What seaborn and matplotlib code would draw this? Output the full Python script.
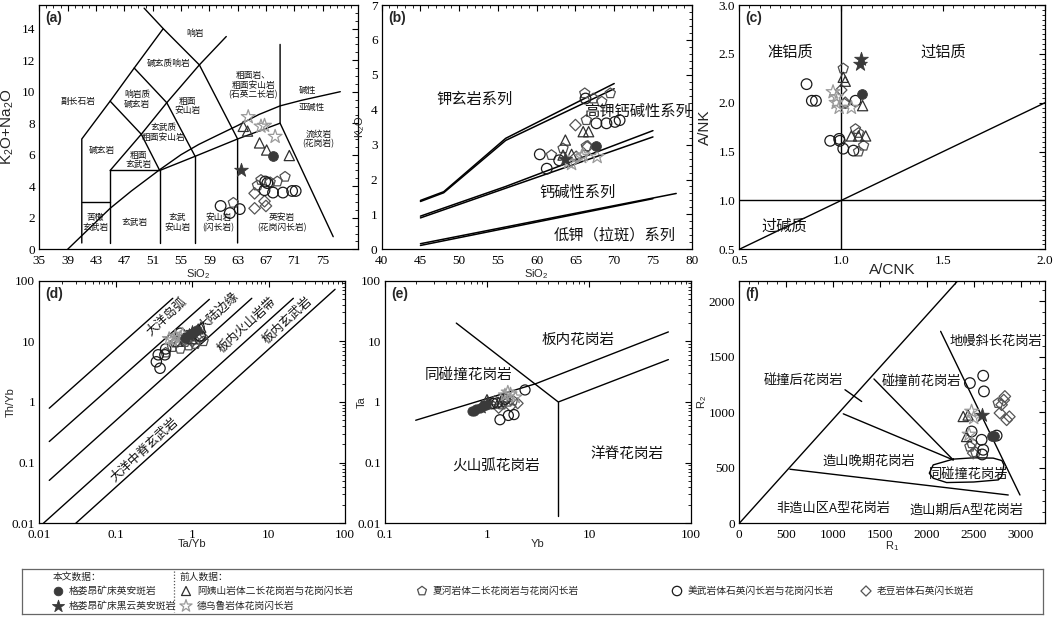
import matplotlib
matplotlib.use('Agg')
import matplotlib.pyplot as plt
from matplotlib.ticker import MultipleLocator, FixedLocator, FixedFormatter, LogLocator, NullFormatter
import seaborn as sns
import pandas as pd

sns.set_theme(style='white')
plt.rcParams['font.family'] = ['Liberation Serif', 'Noto Sans CJK SC']
plt.rcParams['mathtext.fontset'] = 'custom'
plt.rcParams['mathtext.rm'] = 'Liberation Sans'
plt.rcParams['mathtext.it'] = 'Liberation Sans'

CJK = ['Noto Sans CJK SC', 'DejaVu Sans']
SANS = ['Liberation Sans', 'DejaVu Sans']

# ---------------- legend names
name_A = '格娄昂矿床英安斑岩'
name_B = '格娄昂矿床黑云英安斑岩'
name_T = '阿姨山岩体二长花岗岩与花岗闪长岩'
name_P = '夏河岩体二长花岗岩与花岗闪长岩'
name_C = '美武岩体石英闪长岩与花岗闪长岩'
name_D = '老豆岩体石英闪长斑岩'
name_S = '德乌鲁岩体花岗闪长岩'

# ---------------- (a) TAS data
tas_group = ['A', 'B'] + ['T'] * 5 + ['S'] * 4 + ['P'] * 6 + ['C'] * 10 + ['D'] * 4
tas_sio2 = [68.0, 63.5,
            63.8, 64.4, 66.1, 67.1, 70.3,
            64.5, 66.3, 66.8, 68.3,
            66.3, 67.6, 68.6, 69.7, 65.8, 62.4,
            60.6, 61.9, 63.3, 66.9, 67.2, 66.8, 68.0, 69.4, 70.7, 71.2,
            65.4, 65.4, 66.8, 67.0]
tas_alk = [5.9, 5.0,
           7.8, 7.5, 6.75, 6.3, 5.95,
           8.4, 7.8, 7.85, 7.15,
           4.4, 4.25, 4.3, 4.6, 4.05, 2.95,
           2.75, 2.3, 2.55, 4.3, 4.2, 3.75, 3.6, 3.6, 3.7, 3.7,
           3.55, 2.6, 3.05, 2.75]

# ---------------- (b) SiO2-K2O data
sk_group = ['A', 'B'] + ['T'] * 5 + ['S'] * 5 + ['P'] * 8 + ['C'] * 8 + ['D'] * 3
sk_sio2 = [67.7, 63.6,
           63.7, 66.0, 66.7, 63.4, 64.5,
           64.1, 66.0, 67.8, 64.5, 65.8,
           66.2, 67.3, 68.4, 69.5, 66.4, 61.9, 63.4, 66.4,
           60.4, 61.3, 62.9, 66.3, 67.7, 69.0, 70.1, 70.7,
           65.0, 65.1, 66.6]
sk_k2o = [2.95, 2.6,
          3.13, 3.37, 3.37, 2.7, 2.72,
          2.5, 2.7, 2.65, 2.45, 2.65,
          4.47, 4.32, 4.23, 4.47, 3.7, 2.7, 2.89, 2.95,
          2.72, 2.31, 2.55, 4.32, 3.61, 3.61, 3.65, 3.7,
          3.56, 2.65, 2.95]

# ---------------- (c) A/CNK-A/NK data
ac_group = ['A', 'B', 'B'] + ['T'] * 6 + ['S'] * 5 + ['P'] * 6 + ['C'] * 9 + ['D'] * 2
ac_acnk = [1.10, 1.096, 1.093,
           1.01, 1.02, 1.105, 1.12, 1.085, 1.05,
           0.96, 0.977, 0.975, 0.99, 1.05,
           1.01, 1.015, 1.07, 1.085, 1.11, 1.085,
           0.83, 0.856, 0.876, 0.946, 0.99, 0.993, 1.01, 1.06, 1.07,
           1.0, 1.02]
ac_anK = [2.09, 2.45, 2.40,
          2.26, 2.22, 1.97, 1.66, 1.66, 1.66,
          2.11, 2.06, 2.0, 1.95, 1.95,
          2.35, 1.99, 1.73, 1.69, 1.56, 1.50,
          2.19, 2.02, 2.02, 1.61, 1.63, 1.61, 1.53, 1.51, 2.02,
          2.13, 2.0]

# ---------------- (d) Ta/Yb-Th/Yb data
ty_group = ['A'] * 4 + ['B'] * 2 + ['T'] * 4 + ['S'] * 5 + ['P'] * 8 + ['C'] * 7 + ['D'] * 5
ty_tayb = [0.8, 0.95, 1.05, 1.15,
           0.9, 1.0,
           0.65, 1.2, 1.3, 1.0,
           0.5, 0.6, 0.75, 0.55, 0.7,
           0.45, 0.55, 0.7, 0.9, 1.1, 1.4, 0.6, 0.8,
           0.36, 0.34, 0.38, 0.44, 0.70, 1.27, 0.45,
           0.8, 1.0, 1.2, 1.35, 0.9]
ty_thyb = [11.5, 13.0, 14.5, 15.5,
           12.5, 14.0,
           10.0, 16.0, 17.0, 11.0,
           11.0, 12.0, 13.0, 10.5, 11.5,
           6.5, 8.0, 7.5, 8.5, 9.0, 10.0, 9.5, 9.7,
           6.0, 4.6, 3.6, 6.0, 13.6, 12.3, 7.5,
           10.5, 10.0, 11.0, 12.0, 11.5]

# ---------------- (e) Yb-Ta data
yt_group = ['A'] * 6 + ['B'] * 2 + ['T'] * 3 + ['S'] * 4 + ['P'] * 5 + ['C'] * 7 + ['D'] * 4
yt_yb = [0.72, 0.78, 0.85, 0.92, 0.98, 0.75,
         0.88, 1.0,
         1.0, 1.3, 1.5,
         1.5, 1.7, 1.9, 1.6,
         1.1, 1.4, 1.6, 1.8, 1.2,
         1.34, 1.62, 1.84, 2.36, 1.5, 1.25, 1.15,
         1.3, 1.7, 2.0, 1.45]
yt_ta = [0.72, 0.76, 0.8, 0.85, 0.9, 0.7,
         0.82, 0.95,
         1.1, 1.0, 1.2,
         1.3, 1.35, 1.2, 1.45,
         0.9, 0.9, 1.0, 1.05, 1.05,
         0.51, 0.6, 0.62, 1.58, 1.11, 0.96, 0.95,
         0.8, 0.85, 0.95, 1.0]

# ---------------- (f) R1-R2 data
rr_group = ['A'] * 2 + ['B'] + ['T'] * 3 + ['S'] * 3 + ['P'] * 4 + ['C'] * 8 + ['D'] * 7
rr_r1 = [2690, 2720, 2584,
         2388, 2424, 2440,
         2477, 2500, 2450,
         2761, 2459, 2520, 2480,
         2459, 2601, 2609, 2477, 2584, 2601, 2590, 2744,
         2797, 2832, 2851, 2779, 2494, 2880, 2820]
rr_r2 = [790, 790, 977,
         962, 782, 975,
         1007, 950, 800,
         1083, 690, 640, 720,
         1263, 1329, 1188, 827, 752, 662, 620, 790,
         1068, 1143, 932, 993, 632, 960, 1110]

# ---------------- diagram boundaries
tas_lines = [
    [(41, 0.4), (41, 7), (45, 9.4), (48.4, 11.5), (52.5, 14), (57.6, 11.7), (63, 7), (63, 0.4)],
    [(41, 3), (45, 3)],
    [(45, 0.4), (45, 5), (52, 5), (52, 0.4)],
    [(52, 5), (57, 5.9), (63, 7), (69, 8), (69, 13)],
    [(57, 0.4), (57, 5.9)],
    [(45, 9.4), (49.4, 7.3), (52, 5)],
    [(45, 5), (49.4, 7.3), (53, 9.3), (57.6, 11.7)],
    [(48.4, 11.5), (53, 9.3), (57, 5.9)],
    [(57.6, 11.7), (61.4, 13.5)],
    [(52.5, 14), (49.8, 15.3)],
    [(69, 8), (76.5, 0.8)],
]
ib_sio2 = [39, 42, 45, 48, 52, 55, 57.5, 60, 63, 66, 69, 72, 75, 77.5]
ib_alk = [0, 1.3, 2.6, 3.7, 5.05, 6.0, 6.65, 7.2, 7.85, 8.55, 9.1, 9.45, 9.75, 10.0]

k_lines = [
    [(45, 1.40), (48, 1.65), (56, 3.18), (70, 4.75)],
    [(45, 1.37), (48, 1.62), (56, 3.12), (70, 4.60)],
    [(45, 0.95), (56, 1.80), (75, 3.40)],
    [(45, 0.90), (56, 1.75), (75, 3.22)],
    [(45, 0.16), (78, 1.60)],
    [(45, 0.11), (75, 1.45)],
]

thyb_lines = [
    [(0.0135, 0.79), (0.558, 51.3)],
    [(0.0135, 0.223), (1.68, 49.3)],
    [(0.0135, 0.051), (6.03, 51.3)],
    [(0.0113, 0.01), (21.1, 51.3)],
    [(0.030, 0.01), (74.1, 72.1)],
]

tayb_lines = [
    [(0.2, 0.5), (3, 2), (60, 14.3)],
    [(0.5, 20), (5, 1), (60, 5.0)],
    [(5, 1), (5, 0.013)],
]

r_lines = [
    [(0, 0), (2400, 2250)],
    [(540, 487), (2868, 255)],
    [(1109, 986), (2281, 571)],
    [(1436, 1300), (2281, 571)],
    [(2147, 1729), (2993, 255)],
    [(1127, 1203), (1305, 1097)],
]
blob_r1 = [2281, 2500, 2708, 2800, 2822, 2797, 2762, 2500, 2211, 2068, 2026, 2068, 2281]
blob_r2 = [578, 590, 587, 565, 526, 421, 391, 372, 367, 406, 451, 526, 578]

# ---------------- styles
STYLE = {
    'A': dict(marker='o', s=55, fc='#3a3a3a', ec='#3a3a3a', lw=0.6),
    'B': dict(marker='*', s=120, fc='#3a3a3a', ec='#3a3a3a', lw=0.6),
    'T': dict(marker='^', s=60, fc='none', ec='#303030', lw=0.9),
    'P': dict(marker='p', s=65, fc='none', ec='#505050', lw=0.9),
    'C': dict(marker='o', s=65, fc='none', ec='#1a1a1a', lw=0.9),
    'D': dict(marker='D', s=38, fc='none', ec='#555555', lw=0.9),
    'S': dict(marker='*', s=120, fc='none', ec='#9a9a9a', lw=0.9),
}
ORDER = ['P', 'D', 'C', 'T', 'S', 'B', 'A']


def draw_points(ax, groups, xs, ys, scale=1.0):
    df = pd.DataFrame({'g': groups, 'x': xs, 'y': ys})
    for g in ORDER:
        sub = df[df['g'] == g]
        if sub.empty:
            continue
        st = STYLE[g]
        sns.scatterplot(data=sub, x='x', y='y', marker=st['marker'], s=st['s'] * scale,
                        facecolor=st['fc'], edgecolor=st['ec'], linewidth=st['lw'],
                        ax=ax, legend=False, zorder=3)


def draw_lines(ax, lines, lw=1.0):
    for ln in lines:
        xs = [p[0] for p in ln]
        ys = [p[1] for p in ln]
        ax.plot(xs, ys, color='black', lw=lw, zorder=2)


def finish(ax, tag, xlabel, ylabel, xl_size, yl_size, ylab_x, xlab_y=-0.055):
    ax.tick_params(which='both', direction='in', top=True, right=True,
                   labelsize=9.5, colors='black')
    ax.tick_params(axis='x', which='major', pad=4)
    ax.tick_params(axis='y', which='major', pad=3)
    ax.tick_params(which='major', length=4, width=0.8)
    ax.tick_params(which='minor', length=2, width=0.6)
    for s in ax.spines.values():
        s.set_color('black')
        s.set_linewidth(0.9)
    ax.set_xlabel(xlabel, family=SANS, fontsize=xl_size)
    ax.set_ylabel(ylabel, family=SANS, fontsize=yl_size)
    ax.xaxis.set_label_coords(0.5, xlab_y)
    ax.yaxis.set_label_coords(ylab_x, 0.5)
    ax.text(0.02, 0.975, tag, transform=ax.transAxes, ha='left', va='top',
            family=SANS, fontsize=10, fontweight='bold')


def label(ax, txt, x, y, size, rot=0, ls=1.05):
    ax.text(x, y, txt, family=CJK, fontsize=size, ha='center', va='center',
            rotation=rot, linespacing=ls, zorder=4, color='#111111')


W, H = 1053, 621
fig = plt.figure(figsize=(W / 100, H / 100), dpi=100)
fig.patch.set_facecolor('white')


def box(l, r, t, b):
    return [l / W, 1 - b / H, (r - l) / W, (b - t) / H]


ax_a = fig.add_axes(box(39.3, 358, 5, 249.3))
ax_b = fig.add_axes(box(381.7, 691.7, 5, 249.3))
ax_c = fig.add_axes(box(739.3, 1045, 5, 249.3))
ax_d = fig.add_axes(box(39.3, 345, 280.7, 523.3))
ax_e = fig.add_axes(box(385, 691, 280.7, 523.3))
ax_f = fig.add_axes(box(739.3, 1045, 280.7, 523.3))

# ---- (a)
draw_lines(ax_a, tas_lines)
ax_a.plot(ib_sio2, ib_alk, color='black', lw=1.0, zorder=2)
draw_points(ax_a, tas_group, tas_sio2, tas_alk, 0.9)
for txt, x, y in [('响岩', 57.0, 13.7), ('碱玄质响岩', 53.2, 11.8), ('响岩质\n碱玄岩', 48.8, 9.5),
                  ('副长石岩', 40.5, 9.4), ('碱玄岩', 43.8, 6.3), ('粗面\n玄武岩', 49.0, 5.65),
                  ('玄武质\n粗面安山岩', 52.6, 7.4), ('粗面\n安山岩', 55.9, 9.1),
                  ('粗面岩、\n粗面安山岩\n(石英二长岩)', 65.2, 10.4), ('碱性', 72.8, 10.1),
                  ('亚碱性', 73.5, 9.0), ('流纹岩\n(花岗岩)', 74.4, 7.0), ('苦橄\n玄武岩', 42.9, 1.7),
                  ('玄武岩', 48.5, 1.7), ('玄武\n安山岩', 54.5, 1.7), ('安山岩\n(闪长岩)', 60.3, 1.7),
                  ('英安岩\n(花岗闪长岩)', 69.2, 1.7)]:
    label(ax_a, txt, x, y, 6.3)
ax_a.set_xlim(35, 80)
ax_a.set_ylim(0, 15.5)
ax_a.xaxis.set_major_locator(FixedLocator(list(range(35, 76, 4))))
ax_a.xaxis.set_minor_locator(MultipleLocator(1))
ax_a.yaxis.set_major_locator(FixedLocator(list(range(0, 15, 2))))
ax_a.yaxis.set_minor_locator(MultipleLocator(0.5))
finish(ax_a, '(a)', 'SiO$_2$', 'K$_2$O+Na$_2$O', 8, 11, -0.073, -0.072)

# ---- (b)
draw_lines(ax_b, k_lines, 1.1)
draw_points(ax_b, sk_group, sk_sio2, sk_k2o, 0.9)
label(ax_b, '钾玄岩系列', 52.0, 4.3, 11)
label(ax_b, '高钾钙碱性系列', 73.0, 3.95, 11)
label(ax_b, '钙碱性系列', 65.2, 1.62, 11)
label(ax_b, '低钾（拉斑）系列', 70.0, 0.42, 11)
ax_b.set_xlim(40, 80)
ax_b.set_ylim(0, 7)
ax_b.xaxis.set_major_locator(MultipleLocator(5))
ax_b.xaxis.set_minor_locator(MultipleLocator(1))
ax_b.yaxis.set_major_locator(MultipleLocator(1))
ax_b.yaxis.set_minor_locator(MultipleLocator(0.2))
finish(ax_b, '(b)', 'SiO$_2$', 'K$_2$O', 8, 8, -0.047, -0.072)

# ---- (c)
ax_c.plot([1.0, 1.0], [0.5, 3.0], color='black', lw=1.0)
ax_c.plot([0.5, 2.0], [1.0, 1.0], color='black', lw=1.0)
ax_c.plot([0.5, 2.0], [0.5, 2.0], color='black', lw=1.0)
draw_points(ax_c, ac_group, ac_acnk, ac_anK, 0.9)
label(ax_c, '准铝质', 0.75, 2.52, 11)
label(ax_c, '过铝质', 1.5, 2.52, 11)
label(ax_c, '过碱质', 0.72, 0.74, 11)
ax_c.set_xlim(0.5, 2.0)
ax_c.set_ylim(0.5, 3.0)
ax_c.xaxis.set_major_locator(FixedLocator([0.5, 1.0, 1.5, 2.0]))
ax_c.xaxis.set_major_formatter(FixedFormatter(['0.5', '1.0', '1.5', '2.0']))
ax_c.xaxis.set_minor_locator(MultipleLocator(0.05))
ax_c.yaxis.set_major_locator(FixedLocator([0.5, 1.0, 1.5, 2.0, 2.5, 3.0]))
ax_c.yaxis.set_major_formatter(FixedFormatter(['0.5', '1.0', '1.5', '2.0', '2.5', '3.0']))
ax_c.yaxis.set_minor_locator(MultipleLocator(0.05))
finish(ax_c, '(c)', 'A/CNK', 'A/NK', 11, 11, -0.089, -0.058)

# ---- (d)
ax_d.set_xscale('log')
ax_d.set_yscale('log')
draw_lines(ax_d, thyb_lines)
draw_points(ax_d, ty_group, ty_tayb, ty_thyb, 0.85)
label(ax_d, '大洋岛弧', 0.46, 25.5, 9, 43)
label(ax_d, '大陆边缘', 2.2, 31.0, 9, 43)
label(ax_d, '板内火山岩带', 5.2, 18.6, 9, 43)
label(ax_d, '板内玄武岩', 17.4, 22.3, 9, 43)
label(ax_d, '大洋中脊玄武岩', 0.24, 0.16, 9, 43)
ax_d.set_xlim(0.01, 100)
ax_d.set_ylim(0.01, 100)
dec = [0.01, 0.1, 1, 10, 100]
dec_txt = ['0.01', '0.1', '1', '10', '100']
for axis in (ax_d.xaxis, ax_d.yaxis):
    axis.set_major_locator(FixedLocator(dec))
    axis.set_major_formatter(FixedFormatter(dec_txt))
    axis.set_minor_locator(LogLocator(base=10, subs=range(2, 10)))
    axis.set_minor_formatter(NullFormatter())
finish(ax_d, '(d)', 'Ta/Yb', 'Th/Yb', 8, 8, -0.076, -0.065)

# ---- (e)
ax_e.set_xscale('log')
ax_e.set_yscale('log')
draw_lines(ax_e, tayb_lines)
draw_points(ax_e, yt_group, yt_yb, yt_ta, 0.8)
label(ax_e, '板内花岗岩', 7.85, 10.5, 10.5)
label(ax_e, '同碰撞花岗岩', 0.66, 2.8, 10.5)
label(ax_e, '火山弧花岗岩', 1.24, 0.089, 10.5)
label(ax_e, '洋脊花岗岩', 23.4, 0.14, 10.5)
ax_e.set_xlim(0.1, 100)
ax_e.set_ylim(0.01, 100)
ax_e.xaxis.set_major_locator(FixedLocator(dec[1:]))
ax_e.xaxis.set_major_formatter(FixedFormatter(dec_txt[1:]))
ax_e.yaxis.set_major_locator(FixedLocator(dec))
ax_e.yaxis.set_major_formatter(FixedFormatter(dec_txt))
for axis in (ax_e.xaxis, ax_e.yaxis):
    axis.set_minor_locator(LogLocator(base=10, subs=range(2, 10)))
    axis.set_minor_formatter(NullFormatter())
finish(ax_e, '(e)', 'Yb', 'Ta', 8, 8, -0.059, -0.065)

# ---- (f)
draw_lines(ax_f, r_lines)
ax_f.plot(blob_r1, blob_r2, color='black', lw=1.0, zorder=2)
draw_points(ax_f, rr_group, rr_r1, rr_r2, 0.9)
label(ax_f, '地幔斜长花岗岩', 2740, 1637, 9.5)
label(ax_f, '碰撞后花岗岩', 680, 1287, 9.5)
label(ax_f, '碰撞前花岗岩', 1947, 1278, 9.5)
label(ax_f, '造山晚期花岗岩', 1377, 556, 9.5)
label(ax_f, '同碰撞花岗岩', 2440, 436, 9.5)
label(ax_f, '非造山区A型花岗岩', 1000, 135, 9.5)
label(ax_f, '造山期后A型花岗岩', 2420, 120, 9.5)
ax_f.set_xlim(0, 3260)
ax_f.set_ylim(0, 2185)
ax_f.xaxis.set_major_locator(MultipleLocator(500))
ax_f.xaxis.set_minor_locator(MultipleLocator(100))
ax_f.yaxis.set_major_locator(MultipleLocator(500))
ax_f.yaxis.set_minor_locator(MultipleLocator(100))
finish(ax_f, '(f)', 'R$_1$', 'R$_2$', 8, 8, -0.099, -0.065)

# ---- legend box
leg = fig.add_axes(box(22, 1043, 569, 614))
leg.set_xlim(22, 1043)
leg.set_ylim(614, 569)
leg.set_xticks([])
leg.set_yticks([])
leg.set_facecolor('white')
for s in leg.spines.values():
    s.set_color('#666666')
    s.set_linewidth(0.9)
fs = 7
leg.text(53, 577, '本文数据：', family=CJK, fontsize=fs, va='center')
leg.text(180, 577, '前人数据：', family=CJK, fontsize=fs, va='center')
leg.plot([174, 174], [571, 612], color='#555555', lw=0.9, ls=(0, (1, 1.5)))
entries = [('A', 58, 591, name_A), ('B', 58, 606, name_B),
           ('T', 186, 591, name_T), ('P', 422, 591, name_P),
           ('C', 677, 591, name_C), ('D', 866, 591, name_D),
           ('S', 186, 606, name_S)]
for g, x, y, txt in entries:
    st = STYLE[g]
    leg.scatter([x], [y], marker=st['marker'], s=st['s'] * 0.7, facecolor=st['fc'],
                edgecolor=st['ec'], linewidth=st['lw'])
    leg.text(x + 11, y, txt, family=CJK, fontsize=fs, va='center')

fig.savefig('out.png', dpi=100, facecolor='white')
